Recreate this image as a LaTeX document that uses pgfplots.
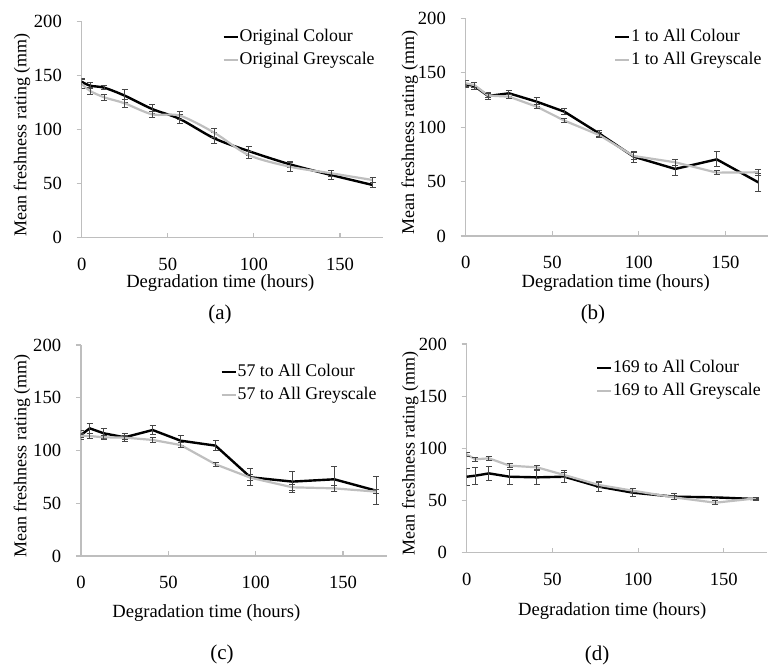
\documentclass[border=0pt]{standalone}
\usepackage{fontspec}
\setmainfont{Liberation Serif}
\usepackage{pgfplots}
\pgfplotsset{compat=1.18}
\usepackage{pgfplotstable}

\definecolor{lightline}{RGB}{191,191,191}
\definecolor{axisgrey}{RGB}{190,190,190}
\definecolor{barcol}{RGB}{70,70,70}

% t = hours, c/ce = colour mean/error, g/ge = greyscale mean/error
\pgfplotstableread{
t   c     ce  g     ge
0   144.4 3   142.3 4
5   140.7 3   135.8 3
13  138.9 2   130.0 3
25  131.5 6   124.4 4
41  119.1 4   114.2 3
57  109.9 4   113.0 4
77  92.0  5   97.2  4
97  80.2  4   76.5  3
121 67.9  3   65.7  4
145 58.0  4   59.6  3
169 48.8  2   53.4  2
}\dA
\pgfplotstableread{
t   c     ce  g     ge
0   139.4 3   140.3 3
5   137.8 3   138.7 2
13  128.6 3   129.0 2
25  131.1 3   128.0 2
41  123.4 4   118.8 2
57  114.2 3   106.0 2
77  94.3  3   92.8  2
97  72.9  5   73.5  3
121 61.6  6   67.7  3
145 70.4  7   58.2  2
169 49.3  8   58.5  3
}\dB
\pgfplotstableread{
t   c     ce  g     ge
0   114.7 4   114.0 2
5   121.0 5   113.7 2
13  116.3 5   112.5 2
25  112.5 4   112.2 2
41  119.4 4   110.0 2
57  109.3 5   105.2 2
77  104.6 5   86.9  2
97  74.6  8   74.2  3
121 70.5  10  65.1  3
145 72.7  12  64.1  3
169 61.9  13  61.0  2
}\dC
\pgfplotstableread{
t   c     ce  g     ge
0   72.8  8   94.2  2
5   73.8  8   89.5  2
13  76.0  7   90.4  2
25  72.8  7   83.4  2
41  72.2  7   81.8  2
57  72.8  6   74.4  2
77  63.3  5   64.9  2
97  57.5  4   59.4  2
121 53.7  3   53.0  2
145 53.0  1   47.9  2
169 51.4  1   52.1  1
}\dD

\pgfplotsset{
  panel/.style={
    scale only axis, xmin=0, xmax=175, ymin=0, ymax=200,
    xtick={0,50,100,150}, ytick={0,50,...,200},
    axis x line*=bottom, axis y line*=left,
    axis line style={draw=axisgrey, line width=0.6pt, -},
    tick align=inside, major tick length=2.5pt,
    tick style={draw=axisgrey, line width=0.6pt},
    ytick style={xshift=-2.5pt},
    /pgf/number format/assume math mode=true,
    tick label style={font=\fontsize{9.3}{11}\selectfont},
    xlabel style={font=\fontsize{9.3}{11}\selectfont},
    ylabel style={font=\fontsize{9}{10.8}\selectfont},
    yticklabel style={xshift=-6.4pt},
    xticklabel style={yshift=-6.6pt},
    ylabel={Mean freshness rating (mm)},
    xlabel={Degradation time (hours)},
    legend cell align=left,
    legend image code/.code={\draw[##1] (0pt,0pt) -- (7pt,0pt);},
    legend style={draw=none, fill=none, inner sep=0pt, row sep=3pt,
      nodes={inner sep=0.4pt}, font=\fontsize{8.9}{10.6}\selectfont},
  },
  colser/.style={black, line width=1.2pt, mark=none,
    error bars/y dir=both, error bars/y explicit,
    error bars/error bar style={barcol, line width=0.5pt},
    error bars/error mark options={rotate=90, mark size=1.5pt, barcol, line width=0.5pt}},
  greyser/.style={lightline, line width=1.1pt, mark=none,
    error bars/y dir=both, error bars/y explicit,
    error bars/error bar style={barcol, line width=0.5pt},
    error bars/error mark options={rotate=90, mark size=1.5pt, barcol, line width=0.5pt}},
}

\begin{document}
\begin{tikzpicture}[font=\fontsize{9.3}{11}\selectfont]
\path[use as bounding box] (0,0) rectangle (384pt,334pt);

% (a)
\begin{axis}[panel, at={(40.85pt,215.15pt)}, anchor=south west,
  width=150.65pt, height=108pt,
  ylabel style={at={(axis description cs:-0.198,0.475)}, anchor=center},
  xlabel style={at={(axis description cs:0.46,-0.21)}, anchor=center},
  legend style={at={(rel axis cs:0.466,0.971)}, anchor=north west}]
\addplot[smooth, colser] table[x=t, y=c, y error=ce] {\dA};
\addplot[smooth, greyser] table[x=t, y=g, y error=ge] {\dA};
\legend{Original Colour, Original Greyscale}
\end{axis}

% (b)
\begin{axis}[panel, at={(232.85pt,216pt)}, anchor=south west,
  width=151.5pt, height=108.85pt,
  ylabel style={at={(axis description cs:-0.185,0.475)}, anchor=center},
  xlabel style={at={(axis description cs:0.495,-0.216)}, anchor=center},
  legend style={at={(rel axis cs:0.489,0.955)}, anchor=north west}]
\addplot[colser] table[x=t, y=c, y error=ce] {\dB};
\addplot[greyser] table[x=t, y=g, y error=ge] {\dB};
\legend{1 to All Colour, 1 to All Greyscale}
\end{axis}

% (c)
\begin{axis}[panel, at={(40.5pt,56pt)}, anchor=south west,
  width=152.85pt, height=105.5pt,
  ylabel style={at={(axis description cs:-0.193,0.475)}, anchor=center},
  xlabel style={at={(axis description cs:0.41,-0.27)}, anchor=center},
  legend style={at={(rel axis cs:0.455,0.915)}, anchor=north west}]
\addplot[colser] table[x=t, y=c, y error=ce] {\dC};
\addplot[greyser] table[x=t, y=g, y error=ge] {\dC};
\legend{57 to All Colour, 57 to All Greyscale}
\end{axis}

% (d)
\begin{axis}[panel, at={(233.35pt,57.65pt)}, anchor=south west,
  width=150pt, height=104.35pt,
  ylabel style={at={(axis description cs:-0.188,0.475)}, anchor=center},
  xlabel style={at={(axis description cs:0.485,-0.279)}, anchor=center},
  legend style={at={(rel axis cs:0.429,0.928)}, anchor=north west}]
\addplot[colser] table[x=t, y=c, y error=ce] {\dD};
\addplot[greyser] table[x=t, y=g, y error=ge] {\dD};
\legend{169 to All Colour, 169 to All Greyscale}
\end{axis}

\begin{scope}[font=\fontsize{10.5}{12.5}\selectfont]
\node at (110pt,177pt) {(a)};
\node at (296.5pt,177pt) {(b)};
\node at (111pt,7pt) {(c)};
\node at (298.5pt,6.5pt) {(d)};
\end{scope}
\end{tikzpicture}
\end{document}
